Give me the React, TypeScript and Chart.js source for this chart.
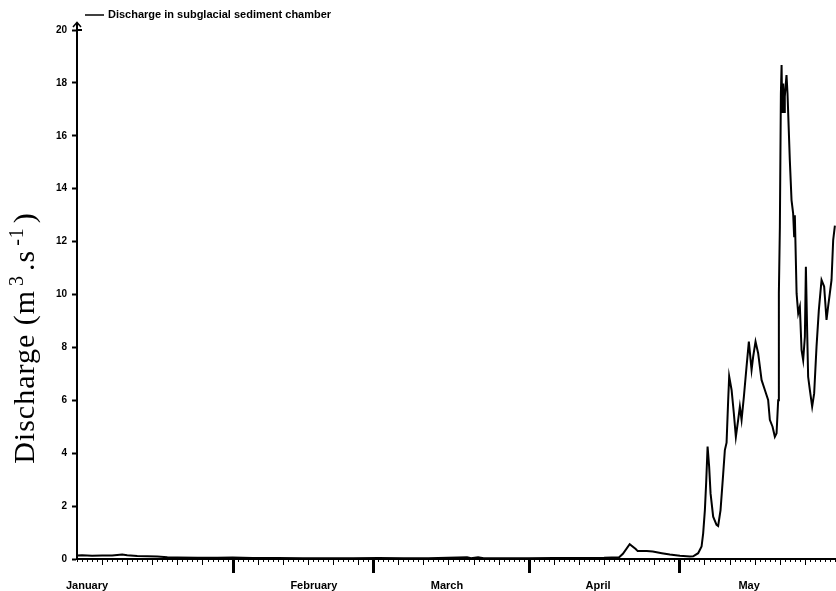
import React, { useEffect, useRef } from "react";
import { Chart, registerables } from "chart.js";

Chart.register(...registerables);

// Day of year (0 = 1 January) and discharge (m3/s)
const days = [
  0, 1, 3, 5, 7, 9, 10, 12, 14, 16, 18, 20, 24, 28, 31, 35, 40, 45, 50, 55,
  60, 65, 70, 77.7, 78.5, 79.9, 81, 85, 90, 95, 100, 105, 108, 108.75, 110.1,
  111.3, 111.7, 113.5, 114.7, 116.5, 118.1, 120.1, 122.1, 122.75, 123.74,
  124.42, 124.74, 125.08, 125.34, 125.62, 125.93, 126.21, 126.73, 127.4,
  127.72, 128.2, 128.72, 129.06, 129.4, 129.72, 129.92, 130.4, 130.85, 131.25,
  131.71, 132.05, 132.39, 132.85, 133.38, 133.84, 134.38, 134.7, 135.17,
  135.69, 136.37, 137.03, 137.68, 138.02, 138.56, 139.02, 139.36, 139.68,
  139.82, 140.02, 140.22, 140.36, 140.48, 140.68, 140.86, 141.0, 141.34,
  141.54, 142.0, 142.34, 142.66, 142.86, 143.0, 143.35, 143.67, 144.0, 144.34,
  144.66, 145.0, 145.2, 145.45, 145.65, 145.99, 146.45, 146.85, 147.32,
  147.78, 148.32, 148.84, 149.31, 149.63, 149.97, 150.31, 150.64, 150.98,
];

const discharge = [
  0.13, 0.14, 0.12, 0.13, 0.13, 0.17, 0.14, 0.11, 0.1, 0.09, 0.07, 0.06, 0.05,
  0.05, 0.06, 0.04, 0.04, 0.03, 0.03, 0.03, 0.04, 0.03, 0.03, 0.07, 0.03, 0.07,
  0.03, 0.03, 0.03, 0.04, 0.04, 0.05, 0.07, 0.2, 0.56, 0.38, 0.3, 0.3, 0.28,
  0.22, 0.17, 0.12, 0.09, 0.1, 0.22, 0.47, 0.97, 1.85, 2.9, 4.25, 3.49, 2.48,
  1.6, 1.29, 1.25, 1.85, 3.2, 4.12, 4.4, 6.0, 6.9, 6.39, 5.51, 4.62, 5.26,
  5.76, 5.26, 6.14, 7.27, 8.22, 7.15, 7.65, 8.22, 7.78, 6.77, 6.39, 6.01, 5.26,
  5.0, 4.62, 4.75, 6.0, 10.04, 12.57, 17.6, 18.68, 16.86, 17.98, 16.9, 17.48,
  18.3, 17.6, 15.08, 13.57, 13.07, 12.2, 13.0, 10.04, 9.29, 9.54, 7.9, 7.52,
  8.4, 11.05, 8.66, 6.89, 6.39, 5.76, 6.26, 8.03, 9.41, 10.55, 10.3, 9.04,
  9.54, 10.04, 10.55, 12.06, 12.6,
];

const monthStarts = [0, 31, 59, 90, 120];
const monthNames = ["January", "February", "March", "April", "May"];
const monthLabelDays = [2, 47.2, 73.7, 103.8, 133.9];
const lastDay = 151.2;
const yTicks = [0, 2, 4, 6, 8, 10, 12, 14, 16, 18, 20];

const seriesName = "Discharge in subglacial sediment chamber";

const SANS = '"Liberation Sans", Arial, Helvetica, sans-serif';
const SERIF = '"Liberation Serif", "Times New Roman", "DejaVu Serif", serif';

const decorPlugin = {
  id: "decor",
  afterDraw(chart: any) {
    const ctx = chart.ctx as CanvasRenderingContext2D;
    const xs = chart.scales.x;
    const { left, top, bottom } = chart.chartArea;
    ctx.save();
    ctx.strokeStyle = "#000";
    // custom x ticks: daily, 5-day, month start
    for (let d = 0; d <= Math.floor(lastDay); d++) {
      let m = 0;
      for (let i = 0; i < monthStarts.length; i++) if (d >= monthStarts[i]) m = i;
      const off = d - monthStarts[m];
      const px = Math.round(xs.getPixelForValue(d));
      let len = 3;
      let lw = 1;
      if (off === 0 && d > 0) {
        len = 14;
        lw = 3;
      } else if (off > 0 && off % 5 === 0 && off <= 25) {
        len = 6;
      }
      ctx.lineWidth = lw;
      ctx.beginPath();
      const cx = lw % 2 === 1 ? px + 0.5 : px;
      ctx.moveTo(cx, bottom);
      ctx.lineTo(cx, bottom + len);
      ctx.stroke();
    }
    // y axis extension + arrow
    ctx.lineWidth = 2;
    ctx.beginPath();
    ctx.moveTo(left, top);
    ctx.lineTo(left, top - 7);
    ctx.stroke();
    ctx.beginPath();
    ctx.lineWidth = 1.5;
    ctx.moveTo(left - 4, top - 3);
    ctx.lineTo(left, top - 7.5);
    ctx.lineTo(left + 4, top - 3);
    ctx.stroke();
    ctx.lineWidth = 2;
    ctx.beginPath();
    ctx.moveTo(left, top);
    ctx.lineTo(left + 5, top);
    ctx.stroke();
    // legend
    ctx.lineWidth = 1.5;
    ctx.beginPath();
    ctx.moveTo(85, 15);
    ctx.lineTo(104, 15);
    ctx.stroke();
    ctx.fillStyle = "#000";
    ctx.font = `bold 11px ${SANS}`;
    ctx.textBaseline = "middle";
    ctx.textAlign = "left";
    ctx.fillText(seriesName, 108, 15);
    // y title with superscripts
    const runs = [
      { t: "Discharge (m", sup: false },
      { t: "3", sup: true },
      { t: ".s", sup: false },
      { t: "-1", sup: true },
      { t: ")", sup: false },
    ];
    const bigFont = `30px ${SERIF}`;
    const supFont = `20px ${SERIF}`;
    const gap = 4;
    (ctx as any).letterSpacing = "1px";
    let total = 0;
    const widths = runs.map((r) => {
      ctx.font = r.sup ? supFont : bigFont;
      const w = ctx.measureText(r.t).width + (r.sup ? 2 * gap : 0);
      total += w;
      return w;
    });
    ctx.translate(34, 338);
    ctx.rotate(-Math.PI / 2);
    ctx.textBaseline = "alphabetic";
    let cur = -total / 2;
    runs.forEach((r, i) => {
      ctx.font = r.sup ? supFont : bigFont;
      ctx.fillText(r.t, cur + (r.sup ? gap : 0), r.sup ? -11 : 0);
      cur += widths[i];
    });
    ctx.restore();
  },
};

export default function App() {
  const ref = useRef<HTMLCanvasElement | null>(null);
  useEffect(() => {
    if (!ref.current) return;
    const chart = new Chart(ref.current, {
      type: "line",
      data: {
        datasets: [
          {
            label: seriesName,
            data: days.map((d, i) => ({ x: d, y: discharge[i] })),
            borderColor: "#000",
            borderWidth: 2,
            pointRadius: 0,
            tension: 0,
            fill: false,
          },
        ],
      },
      options: {
        animation: false,
        responsive: true,
        maintainAspectRatio: false,
        layout: { padding: { top: 30, left: 0, right: 0, bottom: 0 } },
        plugins: { legend: { display: false }, tooltip: { enabled: false } },
        scales: {
          x: {
            type: "linear",
            min: 0,
            max: lastDay,
            grid: { display: false },
            border: { display: true, color: "#000", width: 2 },
            afterBuildTicks: (s: any) => {
              s.ticks = monthLabelDays.map((v) => ({ value: v }));
            },
            afterFit: (s: any) => {
              s.height = 32;
            },
            ticks: {
              autoSkip: false,
              maxRotation: 0,
              padding: 12,
              color: "#000",
              font: { family: SANS, size: 11, weight: "bold" },
              callback: (v: any) => {
                const i = monthLabelDays.indexOf(Number(v));
                return i >= 0 ? monthNames[i] : "";
              },
            },
          },
          y: {
            min: 0,
            max: 20,
            afterBuildTicks: (s: any) => {
              s.ticks = yTicks.map((v) => ({ value: v }));
            },
            afterFit: (s: any) => {
              s.width = 77;
            },
            grid: {
              drawOnChartArea: false,
              drawTicks: true,
              tickLength: 5,
              tickWidth: 2,
              color: "#000",
            },
            border: { display: true, color: "#000", width: 2 },
            ticks: {
              padding: 5,
              color: "#000",
              font: { family: SANS, size: 10, weight: "bold" },
            },
          },
        },
      },
      plugins: [decorPlugin],
    });
    return () => chart.destroy();
  }, []);
  return (
    <div
      style={{
        position: "fixed",
        left: 0,
        top: 0,
        width: 836,
        height: 591,
        background: "#fff",
      }}
    >
      <canvas ref={ref} />
    </div>
  );
}
